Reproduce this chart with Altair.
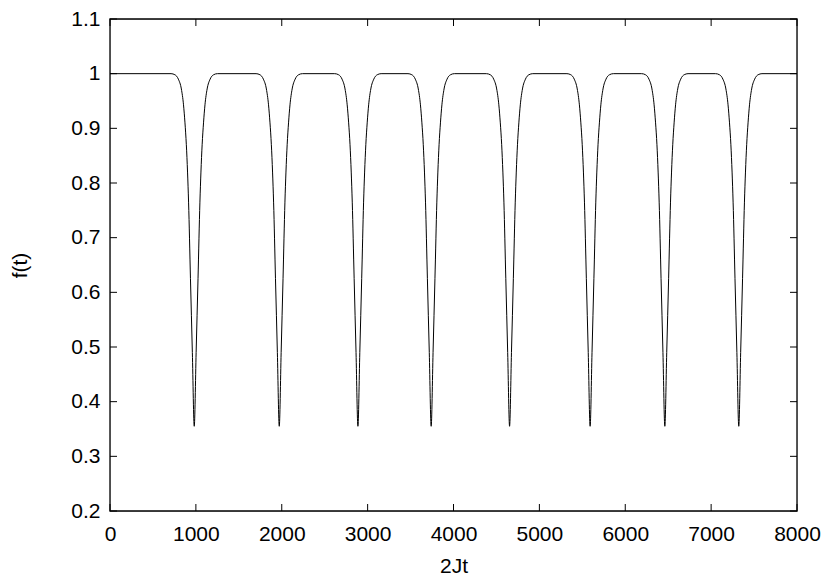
import altair as alt
import pandas as pd

# --- values ---
dip_centers = [981, 1971, 2887, 3740, 4653, 5591, 6461, 7322]
# half-profile of one dip: offset from the dip centre (in 2Jt units) and f(t)
profile_offsets = [0, 22, 44, 66, 78, 92, 108, 125, 150, 185, 225, 270]
profile_values = [0.355, 0.49, 0.625, 0.765, 0.82, 0.87, 0.91, 0.943, 0.972, 0.99, 0.998, 1.0]
x_start, x_end, flat_value = 0, 8000, 1.0

x_ticks = [0, 1000, 2000, 3000, 4000, 5000, 6000, 7000, 8000]
y_ticks = [0.2, 0.3, 0.4, 0.5, 0.6, 0.7, 0.8, 0.9, 1.0, 1.1]

# --- build the curve table ---
xs, ys = [x_start], [flat_value]
for c in dip_centers:
    for o, v in zip(reversed(profile_offsets[1:]), reversed(profile_values[1:])):
        xs.append(c - o); ys.append(v)
    xs.append(c); ys.append(profile_values[0])
    for o, v in zip(profile_offsets[1:], profile_values[1:]):
        xs.append(c + o); ys.append(v)
xs.append(x_end); ys.append(flat_value)
curve = pd.DataFrame({"t": xs, "f": ys})

W, H = 687, 492
TICK = 7
FONT = "Liberation Sans"

xscale = alt.Scale(domain=[0, 8000], nice=False, zero=False)
yscale = alt.Scale(domain=[0.2, 1.1], nice=False, zero=False)

line = alt.Chart(curve).mark_line(
    color="black", strokeWidth=1, interpolate="monotone", clip=True
).encode(
    x=alt.X("t:Q", scale=xscale, title="2Jt",
            axis=alt.Axis(values=x_ticks, tickSize=0, domain=False, grid=False,
                          labelFontSize=21, labelPadding=12, labelColor="black",
                          labelFont=FONT, titleFont=FONT, titleFontSize=21,
                          titleFontWeight="normal", titleColor="black",
                          titlePadding=11, format="d", labelFlush=False)),
    y=alt.Y("f:Q", scale=yscale, title="f(t)",
            axis=alt.Axis(values=y_ticks, tickSize=0, domain=False, grid=False,
                          labelFontSize=21, labelPadding=10, labelColor="black",
                          labelFont=FONT, titleFont=FONT, titleFontSize=21,
                          titleFontWeight="normal", titleColor="black",
                          titlePadding=40, format="~g", labelFlush=False)),
)

xt = pd.DataFrame({"t": x_ticks})
yt = pd.DataFrame({"f": y_ticks})

bottom_ticks = alt.Chart(xt).mark_rule(color="black", strokeWidth=1).encode(
    x=alt.X("t:Q", scale=xscale), y=alt.value(H), y2=alt.value(H - TICK))
top_ticks = alt.Chart(xt).mark_rule(color="black", strokeWidth=1).encode(
    x=alt.X("t:Q", scale=xscale), y=alt.value(0), y2=alt.value(TICK))
left_ticks = alt.Chart(yt).mark_rule(color="black", strokeWidth=1).encode(
    y=alt.Y("f:Q", scale=yscale), x=alt.value(0), x2=alt.value(TICK))
right_ticks = alt.Chart(yt).mark_rule(color="black", strokeWidth=1).encode(
    y=alt.Y("f:Q", scale=yscale), x=alt.value(W - TICK), x2=alt.value(W))

frame = alt.Chart(pd.DataFrame({"k": [0]})).mark_rect(
    fill="transparent", stroke="black", strokeWidth=1.3
).encode(x=alt.value(0), x2=alt.value(W), y=alt.value(0), y2=alt.value(H))

chart = alt.layer(line, bottom_ticks, top_ticks, left_ticks, right_ticks, frame).properties(
    width=W, height=H,
    autosize=alt.AutoSizeParams(type="none"),
    padding={"left": 102, "top": 11, "right": 25, "bottom": 64},
).configure_view(strokeWidth=0).configure(background="white")

chart.save("out.html", embed_options={"renderer": "svg", "actions": False})
